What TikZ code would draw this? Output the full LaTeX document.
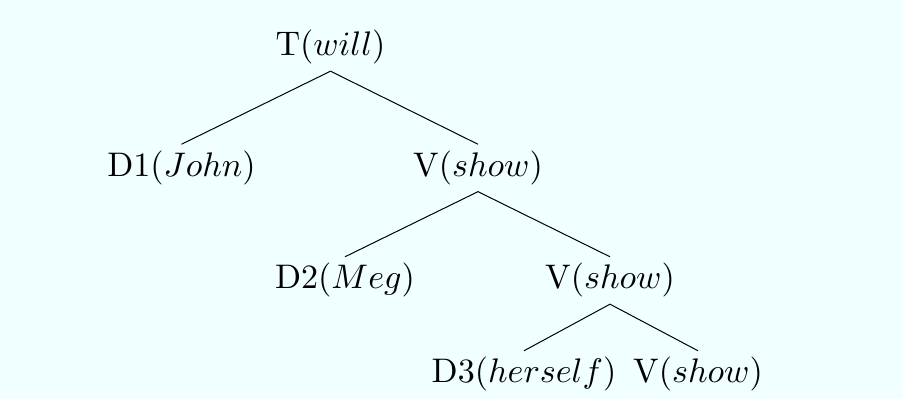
\documentclass[tikz,border=0pt]{standalone}
\usepackage{graphicx}
\usepackage{xcolor}
\definecolor{bgazure}{HTML}{F0FFFF}
\newcommand{\lbl}[1]{\scalebox{2.05}{#1}}
\begin{document}
\begin{tikzpicture}[x=0.02113cm,y=-0.02113cm,
  lab/.style={inner sep=3.8pt, anchor=base},
  branch/.style={draw=black, line width=0.6pt}]
  % background panel
  \fill[bgazure] (0,0) rectangle (903,399);
  % tree nodes (placed on their baselines)
  \node[lab] (t)  at (330.5,56) {\lbl{T$(will)$}};
  \node[lab] (d1) at (181.5,176.5) {\lbl{D1$(John)$}};
  \node[lab] (v1) at (478,176.5) {\lbl{V$(show)$}};
  \node[lab] (d2) at (345,289) {\lbl{D2$(Meg)$}};
  \node[lab] (v2) at (610,289) {\lbl{V$(show)$}};
  \node[lab] (d3) at (524,383) {\lbl{D3$(herself)$}};
  \node[lab] (v3) at (698,383) {\lbl{V$(show)$}};
  % branches
  \draw[branch] (t.south) -- (d1.north);
  \draw[branch] (t.south) -- (v1.north);
  \draw[branch] (v1.south) -- (d2.north);
  \draw[branch] (v1.south) -- (v2.north);
  \draw[branch] (v2.south) -- (d3.north);
  \draw[branch] (v2.south) -- (v3.north);
\end{tikzpicture}
\end{document}
